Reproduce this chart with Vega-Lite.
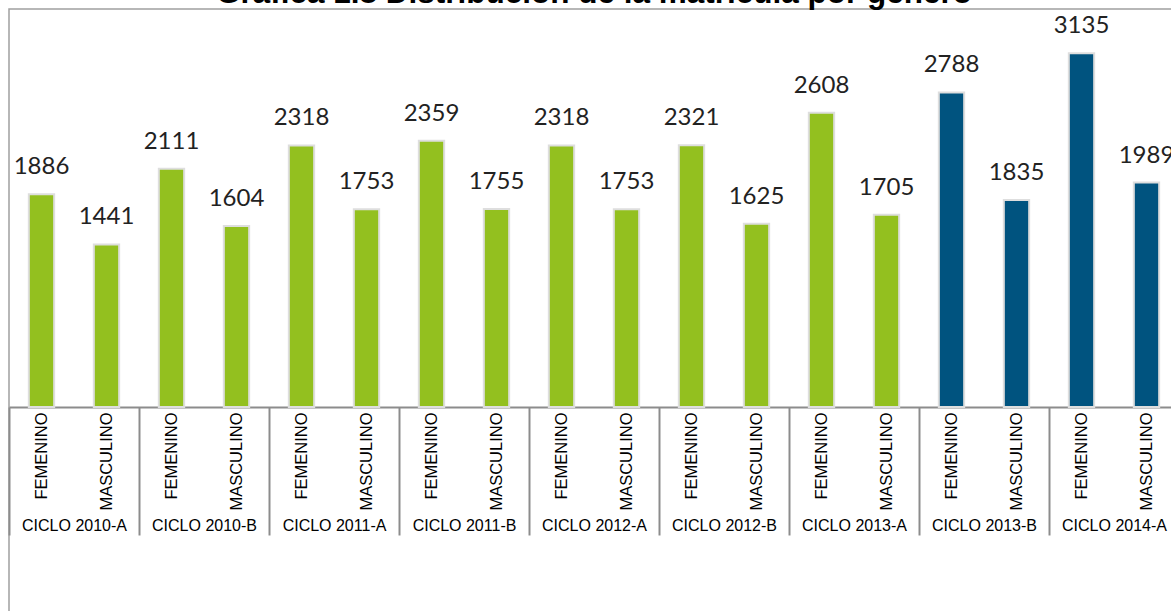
{
  "$schema": "https://vega.github.io/schema/vega-lite/v6.json",
  "autosize": {"type": "none"},
  "width": 1170,
  "height": 606,
  "padding": {"left": 9, "top": 9, "right": -8, "bottom": -4},
  "background": "white",
  "title": {
    "text": "Gráfica 1.8 Distribución de la matrícula por género",
    "font": "Liberation Sans",
    "fontSize": 31.5,
    "fontWeight": "bold",
    "color": "#000000",
    "anchor": "middle",
    "baseline": "alphabetic",
    "offset": 0,
    "dy": 25.5
  },
  "config": {
    "view": {"stroke": "#a0a0a0", "strokeWidth": 1.5},
    "axis": {"grid": false}
  },
  "data": {
    "values": [
      {"ciclo": "CICLO 2010-A", "genero": "FEMENINO", "matricula": 1886},
      {"ciclo": "CICLO 2010-A", "genero": "MASCULINO", "matricula": 1441},
      {"ciclo": "CICLO 2010-B", "genero": "FEMENINO", "matricula": 2111},
      {"ciclo": "CICLO 2010-B", "genero": "MASCULINO", "matricula": 1604},
      {"ciclo": "CICLO 2011-A", "genero": "FEMENINO", "matricula": 2318},
      {"ciclo": "CICLO 2011-A", "genero": "MASCULINO", "matricula": 1753},
      {"ciclo": "CICLO 2011-B", "genero": "FEMENINO", "matricula": 2359},
      {"ciclo": "CICLO 2011-B", "genero": "MASCULINO", "matricula": 1755},
      {"ciclo": "CICLO 2012-A", "genero": "FEMENINO", "matricula": 2318},
      {"ciclo": "CICLO 2012-A", "genero": "MASCULINO", "matricula": 1753},
      {"ciclo": "CICLO 2012-B", "genero": "FEMENINO", "matricula": 2321},
      {"ciclo": "CICLO 2012-B", "genero": "MASCULINO", "matricula": 1625},
      {"ciclo": "CICLO 2013-A", "genero": "FEMENINO", "matricula": 2608},
      {"ciclo": "CICLO 2013-A", "genero": "MASCULINO", "matricula": 1705},
      {"ciclo": "CICLO 2013-B", "genero": "FEMENINO", "matricula": 2788},
      {"ciclo": "CICLO 2013-B", "genero": "MASCULINO", "matricula": 1835},
      {"ciclo": "CICLO 2014-A", "genero": "FEMENINO", "matricula": 3135},
      {"ciclo": "CICLO 2014-A", "genero": "MASCULINO", "matricula": 1989}
    ]
  },
  "transform": [
    {"calculate": "datum.ciclo + '|' + datum.genero", "as": "clave"}
  ],
  "layer": [
    {
      "mark": {"type": "bar", "width": {"band": 0.39}, "stroke": "#dedede", "strokeWidth": 2},
      "encoding": {
        "x": {
          "field": "clave", "type": "nominal", "sort": null,
          "scale": {"paddingInner": 0, "paddingOuter": 0},
          "axis": {
            "orient": "bottom",
            "offset": -208,
            "title": null,
            "ticks": false,
            "domain": true,
            "domainColor": "#8c8c8c",
            "domainWidth": 2,
            "labelAngle": 270,
            "labelExpr": "split(datum.label, '|')[1]",
            "labelFont": "Liberation Sans",
            "labelFontSize": 16.5,
            "labelColor": "#000000",
            "labelPadding": 5
          }
        },
        "y": {
          "field": "matricula", "type": "quantitative",
          "scale": {"domain": [-1844, 3528], "nice": false, "zero": false},
          "axis": null
        },
        "y2": {"datum": 0},
        "color": {
          "condition": {"test": "datum.ciclo === 'CICLO 2013-B' || datum.ciclo === 'CICLO 2014-A'", "value": "#00537f"},
          "value": "#93c01f"
        }
      }
    },
    {
      "mark": {"type": "text", "baseline": "alphabetic", "dy": -20, "font": "Lato", "fontSize": 24, "color": "#222222"},
      "encoding": {
        "x": {"field": "clave", "type": "nominal", "sort": null, "scale": {"paddingInner": 0, "paddingOuter": 0}, "axis": null},
        "y": {"field": "matricula", "type": "quantitative", "scale": {"domain": [-1844, 3528], "nice": false, "zero": false}, "axis": null},
        "text": {"field": "matricula", "type": "quantitative", "format": "d"}
      }
    },
    {
      "mark": {"type": "point", "opacity": 0},
      "encoding": {
        "x": {
          "field": "ciclo", "type": "nominal", "sort": null,
          "scale": {"paddingInner": 0, "paddingOuter": 0},
          "axis": {
            "orient": "bottom",
            "offset": -208,
            "title": null,
            "domain": false,
            "ticks": true,
            "tickBand": "extent",
            "tickSize": 128,
            "tickColor": "#8c8c8c",
            "tickWidth": 2,
            "labelAngle": 0,
            "labelFont": "Liberation Sans",
            "labelFontSize": 16,
            "labelColor": "#000000",
            "labelPadding": -18
          }
        }
      }
    }
  ],
  "resolve": {"scale": {"x": "independent"}, "axis": {"x": "independent"}}
}
